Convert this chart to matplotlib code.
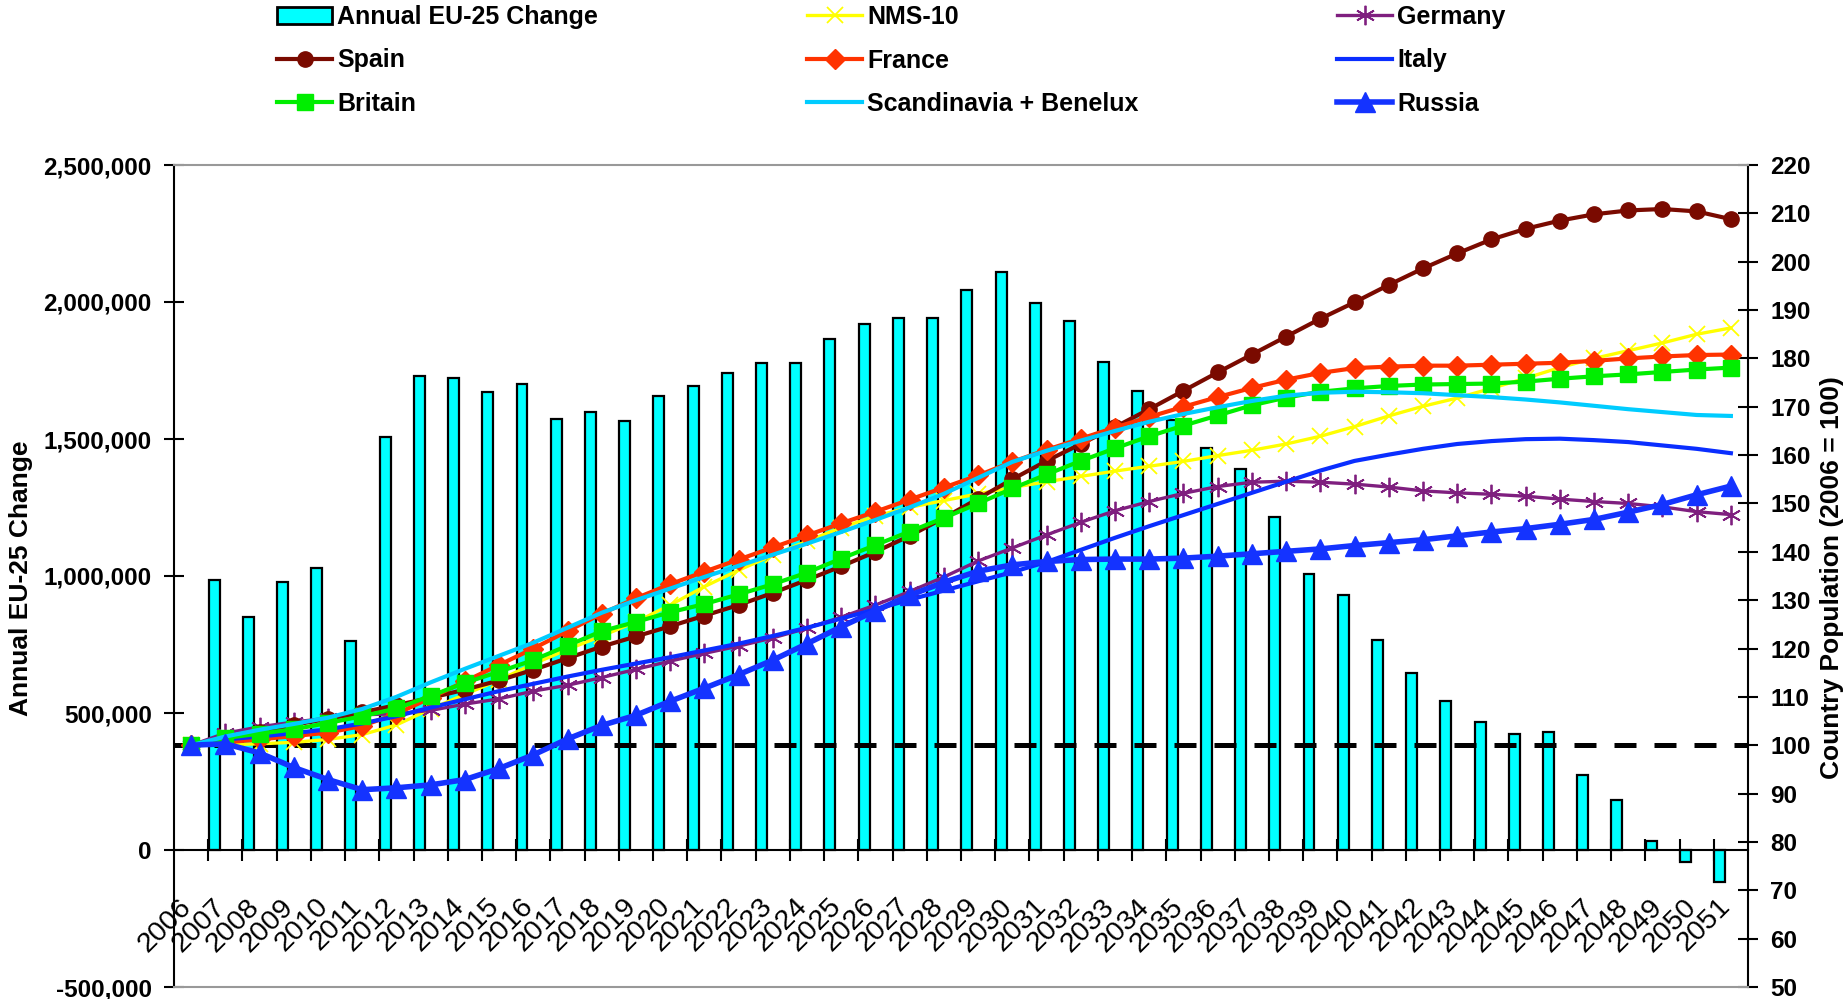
import matplotlib
matplotlib.use("Agg")
import matplotlib.pyplot as plt
from matplotlib.patches import Patch
from matplotlib.transforms import ScaledTranslation
import numpy as np

plt.rcParams['font.family'] = ['Liberation Sans', 'DejaVu Sans']

# ---------------- data ----------------
years = list(range(2006, 2052))
bar_years = list(range(2007, 2052))
eu25_change = [985000, 852000, 978000, 1029000, 763000,
               1508000, 1731000, 1724000, 1671000, 1701000, 1574000, 1597000,
               1567000, 1658000, 1695000, 1740000, 1776000,
               1776000, 1866000, 1918000, 1942000, 1942000, 2045000, 2110000,
               1998000, 1930000, 1780000, 1676000, 1570000,
               1466000, 1389000, 1216000, 1007000, 932000, 768000, 646000,
               542000, 468000, 423000, 431000, 272000,
               182000, 33000, -45000, -116000]

nms10 = [100.0, 100.1, 100.3, 100.6, 101.2, 102.2, 104.2, 107.5, 110.5, 113.5, 116.8, 119.8,
         122.6, 125.5, 129.0, 132.8, 136.2, 139.3, 142.2, 145.0, 147.4, 149.2, 150.6, 152.0,
         153.3, 154.5, 155.6, 156.7, 157.7, 158.7, 159.9, 161.0, 162.3, 163.9, 165.9, 168.1,
         170.1, 171.8, 173.8, 175.9, 178.1, 180.0, 181.6, 183.2, 185.0, 186.3]
germany = [100.0, 102.5, 103.8, 104.8, 105.6, 106.3, 106.5, 107.2, 108.5, 109.6, 111.2, 112.4,
           114.0, 115.7, 117.4, 119.0, 120.5, 122.2, 124.2, 126.5, 129.0, 131.8, 134.8, 138.1,
           140.8, 143.5, 146.1, 148.5, 150.4, 152.1, 153.5, 154.4, 154.6, 154.4, 154.0, 153.4,
           152.6, 152.2, 151.9, 151.5, 150.9, 150.4, 150.0, 149.3, 148.3, 147.7]
spain = [100.0, 101.4, 102.8, 104.2, 105.5, 106.8, 108.3, 109.8, 111.5, 113.4, 115.6, 118.0,
         120.4, 122.5, 124.6, 126.8, 129.0, 131.5, 134.2, 137.0, 140.0, 143.3, 147.0, 151.0,
         155.0, 158.8, 162.3, 165.8, 169.5, 173.3, 177.1, 180.8, 184.5, 188.2, 191.6, 195.2,
         198.6, 201.7, 204.6, 206.8, 208.5, 209.8, 210.6, 210.9, 210.4, 208.8]
france = [100.0, 100.6, 101.2, 101.9, 102.6, 104.0, 106.5, 109.8, 113.2, 116.6, 120.0, 123.6,
          127.2, 130.4, 133.3, 135.9, 138.4, 140.9, 143.4, 145.9, 148.3, 150.8, 153.3, 155.8,
          158.6, 161.1, 163.4, 165.7, 167.9, 170.0, 172.0, 173.9, 175.6, 177.0, 178.0, 178.3,
          178.5, 178.5, 178.7, 178.9, 179.1, 179.5, 180.0, 180.4, 180.7, 180.8]
italy = [100.0, 101.2, 101.8, 102.5, 103.3, 104.5, 106.0, 107.8, 109.5, 111.2, 112.7, 114.2,
         115.6, 116.9, 118.2, 119.6, 121.0, 122.6, 124.3, 126.2, 128.1, 130.1, 132.0, 133.9,
         135.8, 137.9, 140.4, 142.9, 145.3, 147.6, 149.9, 152.2, 154.5, 156.8, 158.8, 160.1,
         161.3, 162.3, 162.9, 163.3, 163.4, 163.1, 162.7, 162.0, 161.3, 160.4]
britain = [100.0, 101.5, 102.4, 103.3, 104.6, 106.0, 107.6, 110.2, 112.9, 115.2, 117.6, 120.6,
           123.6, 125.5, 127.5, 129.2, 131.2, 133.3, 135.7, 138.6, 141.4, 144.2, 147.0, 150.0,
           153.1, 156.0, 158.8, 161.4, 163.9, 166.1, 168.2, 170.3, 171.9, 173.1, 173.8, 174.3,
           174.6, 174.7, 174.8, 175.2, 175.8, 176.3, 176.7, 177.2, 177.7, 178.1]
scand_benelux = [100.0, 101.8, 103.2, 104.4, 105.7, 107.5, 110.0, 113.0, 115.8, 118.5, 121.2, 124.3,
                 127.4, 130.0, 132.4, 134.8, 137.1, 139.4, 141.7, 144.1, 146.6, 149.2, 152.0, 155.3,
                 158.6, 160.9, 163.0, 165.0, 166.9, 168.5, 169.9, 171.2, 172.3, 172.9, 173.1, 173.0,
                 172.8, 172.4, 172.0, 171.5, 170.9, 170.2, 169.5, 168.9, 168.3, 168.1]
russia = [100.0, 100.3, 98.4, 95.4, 92.9, 90.8, 91.2, 91.8, 92.9, 95.2, 98.0, 101.3,
          104.1, 106.2, 109.1, 111.8, 114.6, 117.6, 121.0, 124.5, 127.8, 131.0, 133.7, 136.0,
          137.3, 138.0, 138.4, 138.5, 138.5, 138.7, 139.1, 139.6, 140.1, 140.6, 141.3, 141.9,
          142.5, 143.3, 144.1, 144.8, 145.7, 146.7, 148.2, 149.8, 151.8, 153.6]
baseline = 100

left_ticks = [-500000, 0, 500000, 1000000, 1500000, 2000000, 2500000]
right_ticks = list(range(50, 221, 10))

# ---------------- figure ----------------
W, H = 1847, 999
fig = plt.figure(figsize=(W / 100, H / 100), dpi=100)
ax = fig.add_axes([174 / W, 1 - 987 / H, (1748 - 174) / W, (987 - 165) / H])
ax2 = ax.twinx()

x = np.arange(len(years))
xb = np.array([years.index(y) for y in bar_years])
ax.bar(xb - 0.33, eu25_change, width=0.32, color='#00FFFF', edgecolor='black',
       linewidth=1.6, zorder=2)
ax.set_xlim(-0.5, len(years) - 0.5)
ax.set_ylim(-500000, 2500000)
ax.set_yticks(left_ticks)
ax.set_yticklabels([f'{v:,}' for v in left_ticks], fontsize=17.5, fontweight='bold')
ax.tick_params(axis='y', direction='inout', length=14, width=1.5, pad=9)

ax.spines['bottom'].set_position(('data', 0))
ax.spines['bottom'].set_linewidth(1.5)
ax.spines['left'].set_linewidth(1.5)
ax.spines['top'].set_visible(False)
ax.spines['right'].set_visible(False)

ax.set_xticks(np.arange(0.5, len(years) - 1, 1.0))
ax.set_xticks(x, minor=True)
ax.set_xticklabels([str(y) for y in years], minor=True, rotation=45, ha='right',
                   va='center', rotation_mode='anchor', fontsize=20.5)
ax.tick_params(axis='x', which='major', direction='inout', length=16, width=1.5,
               labelbottom=False)
ax.tick_params(axis='x', which='minor', length=0, pad=38)
shift = ScaledTranslation(-4 / 100, 0, fig.dpi_scale_trans)
for lab in ax.get_xticklabels(minor=True):
    lab.set_transform(lab.get_transform() + shift)

# right axis
ax2.set_ylim(50, 220)
ax2.set_yticks(right_ticks)
ax2.set_yticklabels([str(v) for v in right_ticks], fontsize=17.5, fontweight='bold')
ax2.tick_params(axis='y', direction='inout', length=14, width=1.5, pad=9)
ax2.spines['left'].set_visible(False)
ax2.spines['right'].set_linewidth(1.5)
ax2.spines['top'].set_color('#999999')
ax2.spines['top'].set_linewidth(1.5)
ax2.spines['bottom'].set_color('#999999')
ax2.spines['bottom'].set_linewidth(1.5)

ax2.axhline(baseline, color='black', lw=3.6, linestyle=(0, (4.4, 3.6)), zorder=1)

styles = [
    ('NMS-10', nms10, dict(color='#FFFF00', marker='x', ms=12, mew=1.3, lw=2.4)),
    ('Germany', germany, dict(color='#7F1F7F', marker=(6, 2, 0), ms=14, mew=1.3, lw=2.4)),
    ('Spain', spain, dict(color='#7A0A00', marker='o', ms=11, lw=3)),
    ('France', france, dict(color='#FF3300', marker='D', ms=10, lw=3)),
    ('Italy', italy, dict(color='#0A2EFF', lw=3)),
    ('Britain', britain, dict(color='#00EE00', marker='s', ms=11, lw=3)),
    ('Scandinavia + Benelux', scand_benelux, dict(color='#00CCFF', lw=3)),
    ('Russia', russia, dict(color='#1433FF', marker='^', ms=15, lw=4)),
]
handles = {}
for name, vals, st in styles:
    ln, = ax2.plot(x, vals, zorder=3, **st)
    handles[name] = ln

handles['Annual EU-25 Change'] = Patch(facecolor='#00FFFF', edgecolor='black', linewidth=2)

cols = [['Annual EU-25 Change', 'Spain', 'Britain'],
        ['NMS-10', 'France', 'Scandinavia + Benelux'],
        ['Germany', 'Italy', 'Russia']]
col_x = [277, 807, 1337]
for labels, cx in zip(cols, col_x):
    fig.legend([handles[l] for l in labels], labels, loc='upper left',
               bbox_to_anchor=(cx / W, 1.0 - 5 / H), frameon=False, borderpad=0,
               borderaxespad=0, handlelength=2.2, handletextpad=0.2,
               labelspacing=0.78, numpoints=1,
               prop={'weight': 'bold', 'size': 18})

fig.text(21 / W, 1 - 578 / H, 'Annual EU-25 Change', rotation=90, ha='center',
         va='center', fontsize=19, fontweight='bold')
fig.text(1832 / W, 1 - 578 / H, 'Country Population (2006 = 100)', rotation=90,
         ha='center', va='center', fontsize=19, fontweight='bold')

fig.savefig('out.png', dpi=100)
